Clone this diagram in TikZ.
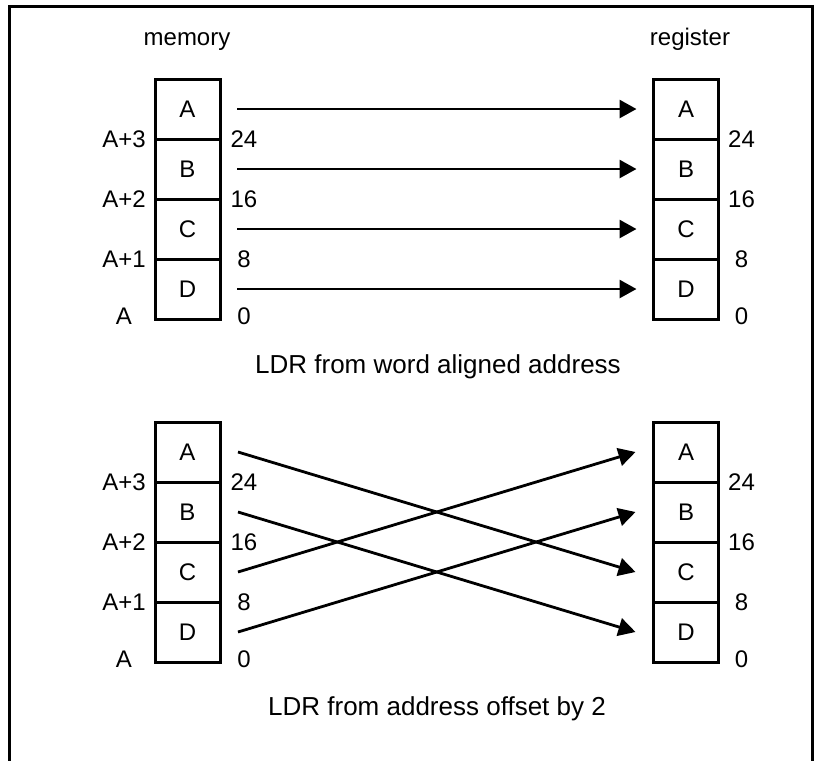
\documentclass[tikz,border=0pt]{standalone}
\usepackage{fontspec}
\setmainfont{Liberation Sans}
\usepackage{tikz}
\usetikzlibrary{arrows.meta,positioning}

\begin{document}
\begin{tikzpicture}[x=1pt,y=-1pt]

\tikzset{cell/.style={draw, line width=3pt, minimum width=65pt, minimum height=60pt,
        inner sep=0pt, outer sep=0pt, font=\fontsize{24}{28}\selectfont},
    lbl/.style={inner sep=0pt, font=\fontsize{24}{28}\selectfont},
    caption/.style={inner sep=0pt, anchor=base, font=\fontsize{26}{30}\selectfont},
    move/.style={line width=2.8pt, -{Triangle[length=17pt,width=18pt]}}}

\useasboundingbox (0,0) rectangle (815,761);
\draw[line width=3pt] (9,761) -- (9,6) -- (812,6) -- (812,761);

\node[lbl, anchor=base] (memtitle) at (187,45) {memory};
\node[lbl, anchor=base] (regtitle) at (690,45) {register};

\node[cell] (memA1) at (187.5,109) {A};
\node[cell, below=0pt of memA1] (memB1) {B};
\node[cell, below=0pt of memB1] (memC1) {C};
\node[cell, below=0pt of memC1] (memD1) {D};

\node[cell] (regA1) at (686,109) {A};
\node[cell, below=0pt of regA1] (regB1) {B};
\node[cell, below=0pt of regB1] (regC1) {C};
\node[cell, below=0pt of regC1] (regD1) {D};

\node[lbl] (addr31) at ([xshift=-31pt]memA1.south west) {A+3};
\node[lbl] (addr21) at ([xshift=-31pt]memB1.south west) {A+2};
\node[lbl] (addr11) at ([xshift=-31pt]memC1.south west) {A+1};
\node[lbl] (addr01) at ([xshift=-31pt,yshift=3pt]memD1.south west) {A};

\node[lbl] (membit241) at ([xshift=24pt]memA1.south east) {24};
\node[lbl] (membit161) at ([xshift=24pt]memB1.south east) {16};
\node[lbl] (membit81) at ([xshift=24pt]memC1.south east) {8};
\node[lbl] (membit01) at ([xshift=24pt,yshift=3pt]memD1.south east) {0};

\node[lbl] (regbit241) at ([xshift=23pt]regA1.south east) {24};
\node[lbl] (regbit161) at ([xshift=23pt]regB1.south east) {16};
\node[lbl] (regbit81) at ([xshift=23pt]regC1.south east) {8};
\node[lbl] (regbit01) at ([xshift=23pt,yshift=3pt]regD1.south east) {0};

\draw[move] ([xshift=17pt]memA1.east) -- ([xshift=-17pt]regA1.west);
\draw[move] ([xshift=17pt]memB1.east) -- ([xshift=-17pt]regB1.west);
\draw[move] ([xshift=17pt]memC1.east) -- ([xshift=-17pt]regC1.west);
\draw[move] ([xshift=17pt]memD1.east) -- ([xshift=-17pt]regD1.west);

\node[caption] (aligned) at (438,373) {LDR from word aligned address};

\node[cell] (memA2) at (187.5,452) {A};
\node[cell, below=0pt of memA2] (memB2) {B};
\node[cell, below=0pt of memB2] (memC2) {C};
\node[cell, below=0pt of memC2] (memD2) {D};

\node[cell] (regA2) at (686,452) {A};
\node[cell, below=0pt of regA2] (regB2) {B};
\node[cell, below=0pt of regB2] (regC2) {C};
\node[cell, below=0pt of regC2] (regD2) {D};

\node[lbl] (addr32) at ([xshift=-31pt]memA2.south west) {A+3};
\node[lbl] (addr22) at ([xshift=-31pt]memB2.south west) {A+2};
\node[lbl] (addr12) at ([xshift=-31pt]memC2.south west) {A+1};
\node[lbl] (addr02) at ([xshift=-31pt,yshift=3pt]memD2.south west) {A};

\node[lbl] (membit242) at ([xshift=24pt]memA2.south east) {24};
\node[lbl] (membit162) at ([xshift=24pt]memB2.south east) {16};
\node[lbl] (membit82) at ([xshift=24pt]memC2.south east) {8};
\node[lbl] (membit02) at ([xshift=24pt,yshift=3pt]memD2.south east) {0};

\node[lbl] (regbit242) at ([xshift=23pt]regA2.south east) {24};
\node[lbl] (regbit162) at ([xshift=23pt]regB2.south east) {16};
\node[lbl] (regbit82) at ([xshift=23pt]regC2.south east) {8};
\node[lbl] (regbit02) at ([xshift=23pt,yshift=3pt]regD2.south east) {0};

\draw[move] ([xshift=18pt]memA2.east) -- ([xshift=-18pt]regC2.west);
\draw[move] ([xshift=18pt]memB2.east) -- ([xshift=-18pt]regD2.west);
\draw[move] ([xshift=18pt]memC2.east) -- ([xshift=-18pt]regA2.west);
\draw[move] ([xshift=18pt]memD2.east) -- ([xshift=-18pt]regB2.west);

\node[caption] (offset) at (437,715) {LDR from address offset by 2};

\end{tikzpicture}
\end{document}
